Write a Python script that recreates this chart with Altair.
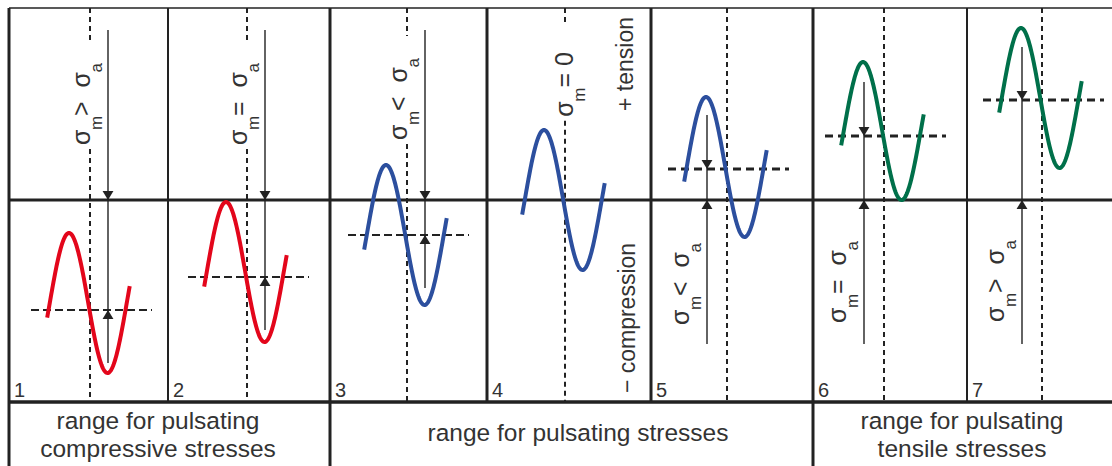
import altair as alt
import numpy as np
import pandas as pd

# ---------------- data ----------------
W, H = 1112, 466
TOP_S, BOT_S = 200, -266          # stress units shown at top / bottom of the picture (0 = zero line)

panel_no = ["1", "2", "3", "4", "5", "6", "7"]
panel_left = [9, 168, 330, 487, 651, 813, 967]
panel_line_w = [3, 2, 3, 3, 3, 3, 2]
axis_x = [90, 247, 407, 565, 727, 884, 1042]          # dashed time-reference line per panel
mean_stress = [-103, -72, -35, 0, 33, 69, 102]        # sigma_m of each curve
amp_stress = [70, 70, 70, 70, 70, 69, 70]             # sigma_a of each curve
mean_line = [-110, -77, -35, None, 31, 64, 100]       # dashed mean-stress line
curve_color = ["#e3061b", "#e3061b", "#2c4f9e", "#2c4f9e", "#2c4f9e", "#00704a", "#00704a"]
arrow_top = [170, 170, 170, None, 85, 118, 153]
arrow_bottom = [-163, -130, -88, None, -144, -144, -144]
label_rel = [">", "=", "<", "= 0", "<", "=", ">"]
label_center = [96, 96, 101, 119, -84, -82, -81]

group_text = [["range for pulsating", "compressive stresses"],
              ["range for pulsating stresses"],
              ["range for pulsating", "tensile stresses"]]
group_x = [158, 578, 962]
group_edges = [9, 330, 813]

TXT = "#333333"
LINE = "#222222"
FONT = "Liberation Sans"

def sy(ypix):
    return 200 - ypix

# ---------------- build tables ----------------
frame = [dict(x=9, x2=W, y=sy(8), y2=sy(8), w=1.5),
         dict(x=9, x2=W, y=0, y2=0, w=3),
         dict(x=9, x2=W, y=sy(402), y2=sy(402), w=3.5)]
for xl, lw in zip(panel_left, panel_line_w):
    bottom = BOT_S if xl in group_edges else sy(402)
    frame.append(dict(x=xl, x2=xl, y=sy(8), y2=bottom, w=lw))
frame = pd.DataFrame(frame)

# curves
rows = []
theta = np.linspace(-12, 374, 160)
for i in range(7):
    xs = axis_x[i] - 21 + (theta - 90) / 360 * 77
    ys = mean_stress[i] + amp_stress[i] * np.sin(np.radians(theta))
    for k, (a, b) in enumerate(zip(xs, ys)):
        rows.append(dict(panel=panel_no[i], x=a, y=b, k=k, c=curve_color[i]))
curves = pd.DataFrame(rows)

# tokens of the rotated sigma labels
MAIN, SUB = 25, 17
adv = {"σ": 0.6, "m": 0.833, "a": 0.556, ">": 0.584, "<": 0.584, "=": 0.584, "0": 0.556, " ": 0.278}

tok_rows = []
label_extent = []
for i in range(7):
    rel = label_rel[i]
    if rel == "= 0":
        toks = [("σ", MAIN), ("m", SUB), (" = 0", MAIN)]
        base = axis_x[i] + 8
    else:
        toks = [("σ", MAIN), ("m", SUB), (" " + rel + " ", MAIN), ("σ", MAIN), ("a", SUB)]
        base = axis_x[i] if i < 3 else axis_x[i] - 38
    L = sum(sum(adv[c] for c in t) * s for t, s in toks)
    pos = label_center[i] - L / 2
    label_extent.append((label_center[i] - L / 2, label_center[i] + L / 2))
    for t, s in toks:
        tok_rows.append(dict(x=base + (12 if s == SUB else 0), y=pos, t=t, s=s))
        pos += sum(adv[c] for c in t) * s
tokens = pd.DataFrame(tok_rows)

# vertical dashed reference lines (interrupted by labels in the upper half)
dash_rows = []
for i in range(7):
    if i <= 3:
        lo, hi = label_extent[i]
        dash_rows.append(dict(x=axis_x[i], y=sy(8), y2=hi + 22))
        dash_rows.append(dict(x=axis_x[i], y=lo - 4, y2=sy(402)))
    else:
        dash_rows.append(dict(x=axis_x[i], y=sy(8), y2=sy(402)))
vdash = pd.DataFrame(dash_rows)

mean_rows = [dict(x=axis_x[i] - 59, x2=axis_x[i] + 62, y=mean_line[i], grp="c" if i < 3 else "t")
             for i in range(7) if mean_line[i] is not None]
means = pd.DataFrame(mean_rows)

shaft_rows, head_rows = [], []
for i in range(7):
    if arrow_top[i] is None:
        continue
    ax = axis_x[i] + 18 if i < 3 else axis_x[i] - 20
    shaft_rows.append(dict(x=ax, y=arrow_top[i], y2=arrow_bottom[i]))
    if i < 3:
        head_rows.append(dict(x=ax, y=0, d="down"))
        head_rows.append(dict(x=ax, y=mean_line[i], d="up"))
    else:
        head_rows.append(dict(x=ax, y=mean_line[i], d="down"))
        head_rows.append(dict(x=ax, y=0, d="up"))
shafts = pd.DataFrame(shaft_rows)
heads = pd.DataFrame(head_rows)

nums = pd.DataFrame(dict(x=[p + 5 for p in panel_left], y=[sy(397)] * 7, t=panel_no))

cap_rows = []
for gx, lines in zip(group_x, group_text):
    if len(lines) == 2:
        cap_rows.append(dict(x=gx, y=sy(429), t=lines[0]))
        cap_rows.append(dict(x=gx, y=sy(457), t=lines[1]))
    else:
        cap_rows.append(dict(x=gx, y=sy(441), t=lines[0]))
caps = pd.DataFrame(cap_rows)

side = pd.DataFrame(dict(x=[633, 635], y=[sy(64), sy(318)], t=["+ tension", "− compression"]))

# ---------------- chart ----------------
X = lambda f="x": alt.X(f + ":Q", scale=alt.Scale(domain=[0, W], nice=False, zero=False), axis=None)
Y = lambda f="y": alt.Y(f + ":Q", scale=alt.Scale(domain=[BOT_S, TOP_S], nice=False, zero=False), axis=None)

frame_l = alt.Chart(frame).mark_rule(color=LINE).encode(
    x=X(), x2="x2:Q", y=Y(), y2="y2:Q", strokeWidth=alt.StrokeWidth("w:Q", scale=None))

vdash_l = alt.Chart(vdash).mark_rule(color=LINE, strokeWidth=2, strokeDash=[5, 4]).encode(
    x=X(), y=Y(), y2="y2:Q")

mean_c = alt.Chart(means[means.grp == "c"]).mark_rule(color=LINE, strokeWidth=2.2, strokeDash=[8, 4]).encode(
    x=X(), x2="x2:Q", y=Y())
mean_t = alt.Chart(means[means.grp == "t"]).mark_rule(color=LINE, strokeWidth=3, strokeDash=[8, 5]).encode(
    x=X(), x2="x2:Q", y=Y())

curve_l = alt.Chart(curves).mark_line(strokeWidth=4, strokeCap="butt").encode(
    x=X(), y=Y(), detail="panel:N", order="k:Q", color=alt.Color("c:N", scale=None))

shaft_l = alt.Chart(shafts).mark_rule(color=LINE, strokeWidth=1.4).encode(x=X(), y=Y(), y2="y2:Q")

head_up = alt.Chart(heads[heads.d == "up"]).mark_point(
    shape="M0,0L0.6,1L-0.6,1Z", filled=True, size=330, color=LINE, opacity=1, strokeWidth=0
).encode(x=X(), y=Y())
head_dn = alt.Chart(heads[heads.d == "down"]).mark_point(
    shape="M0,0L0.6,-1L-0.6,-1Z", filled=True, size=330, color=LINE, opacity=1, strokeWidth=0
).encode(x=X(), y=Y())

tok_l = alt.Chart(tokens).mark_text(angle=270, align="left", baseline="alphabetic", font=FONT, color=TXT).encode(
    x=X(), y=Y(), text="t:N", size=alt.Size("s:Q", scale=None))

side_l = alt.Chart(side).mark_text(angle=270, align="center", baseline="alphabetic", font=FONT,
                                   fontSize=23, color=TXT).encode(x=X(), y=Y(), text="t:N")

num_l = alt.Chart(nums).mark_text(align="left", baseline="alphabetic", font=FONT, fontSize=20, color=TXT).encode(
    x=X(), y=Y(), text="t:N")

cap_l = alt.Chart(caps).mark_text(align="center", baseline="alphabetic", font=FONT, fontSize=24.5, color=TXT).encode(
    x=X(), y=Y(), text="t:N")

chart = alt.layer(frame_l, vdash_l, mean_c, mean_t, curve_l, shaft_l, head_up, head_dn,
                  tok_l, side_l, num_l, cap_l).properties(
    width=W, height=H, padding=0, autosize="none", background="white"
).configure_view(stroke=None)

chart.save("out.html", embed_options={"renderer": "svg", "actions": False})
